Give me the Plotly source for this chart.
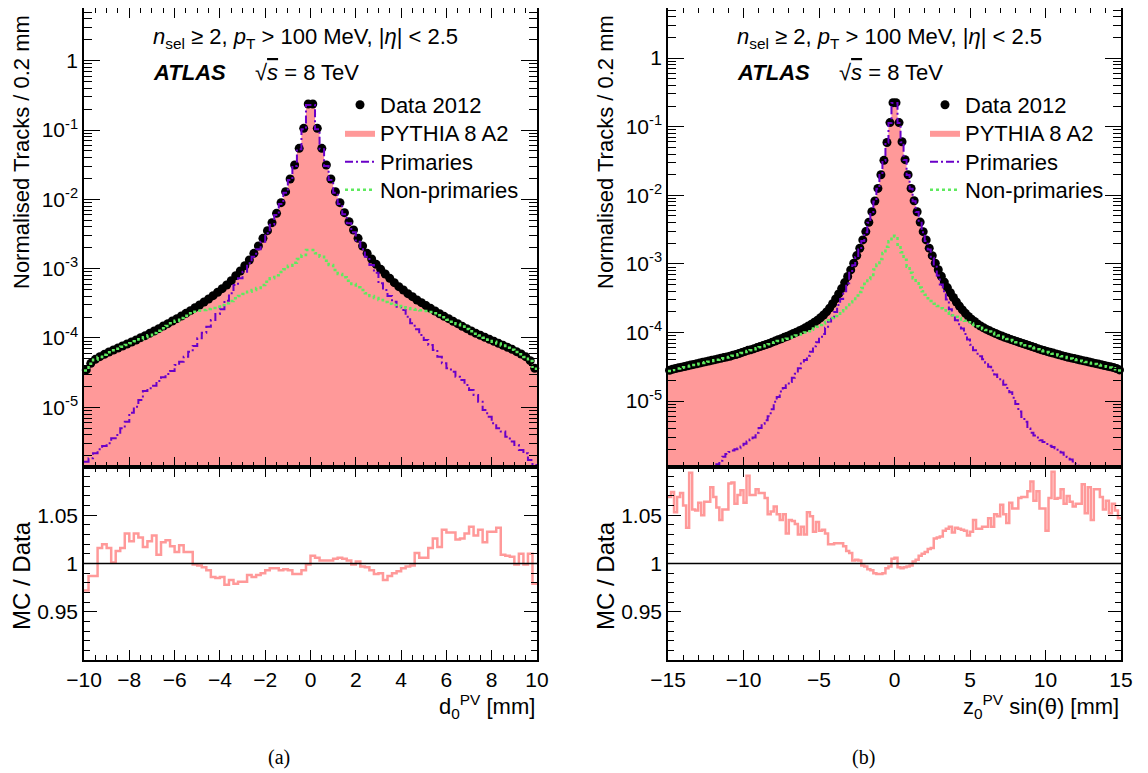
import numpy as np
import plotly.graph_objects as go

# ---------------- data ----------------
BIN_WIDTH = 0.2  # mm

# (a) d0^PV, 100 bins from -10 to 10 mm
d0_lo = -10.0
d0_hi = 10.0
d0_data = [
    3.46e-5, 4.31e-5, 4.92e-5, 5.38e-5, 5.81e-5, 6.28e-5, 6.71e-5, 7.17e-5, 7.66e-5, 8.19e-5,
    8.76e-5, 9.36e-5, 1.011e-4, 1.081e-4, 1.167e-4, 1.262e-4, 1.363e-4, 1.49e-4, 1.61e-4, 1.758e-4,
    1.90e-4, 2.076e-4, 2.268e-4, 2.478e-4, 2.739e-4, 2.992e-4, 3.306e-4, 3.652e-4, 4.08e-4, 4.56e-4,
    5.146e-4, 5.81e-4, 6.71e-4, 7.93e-4, 9.25e-4, 1.105e-3, 1.334e-3, 1.664e-3, 2.122e-3, 2.738e-3,
    3.53e-3, 4.61e-3, 6.28e-3, 8.95e-3, 1.29e-2, 1.965e-2, 3.13e-2, 5.44e-2, 0.1057, 0.237,
    0.237, 0.1057, 5.44e-2, 3.13e-2, 1.965e-2, 1.29e-2, 8.95e-3, 6.42e-3, 4.76e-3, 3.61e-3,
    2.738e-3, 2.122e-3, 1.664e-3, 1.378e-3, 1.155e-3, 9.78e-4, 8.38e-4, 7.25e-4, 6.28e-4, 5.50e-4,
    4.92e-4, 4.36e-4, 3.95e-4, 3.53e-4, 3.23e-4, 2.93e-4, 2.68e-4, 2.45e-4, 2.24e-4, 2.05e-4,
    1.90e-4, 1.739e-4, 1.61e-4, 1.474e-4, 1.363e-4, 1.262e-4, 1.167e-4, 1.093e-4, 1.022e-4, 9.57e-5,
    8.95e-5, 8.38e-5, 7.84e-5, 7.33e-5, 6.86e-5, 6.35e-5, 5.88e-5, 5.38e-5, 4.71e-5, 3.65e-5,
]
d0_ratio = [
    0.972, 0.987, 0.987, 1.016, 1.020, 1.016, 1.001, 1.013, 1.016, 1.031,
    1.023, 1.031, 1.027, 1.017, 1.023, 1.029, 1.009, 1.022, 1.024, 1.018,
    1.012, 1.019, 1.012, 1.012, 0.999, 0.998, 0.996, 0.993, 0.986, 0.985,
    0.986, 0.978, 0.983, 0.979, 0.981, 0.981, 0.988, 0.986, 0.988, 0.990,
    0.993, 0.995, 0.995, 0.993, 0.994, 0.993, 0.989, 0.989, 0.993, 0.999,
    1.008, 1.006, 1.003, 1.003, 1.003, 1.005, 1.006, 1.005, 1.003, 0.999,
    1.002, 0.997, 0.996, 0.993, 0.989, 0.990, 0.983, 0.987, 0.990, 0.992,
    0.995, 0.997, 0.998, 1.011, 1.006, 1.006, 1.016, 1.026, 1.017, 1.035,
    1.032, 1.032, 1.025, 1.026, 1.031, 1.038, 1.029, 1.035, 1.022, 1.033,
    1.033, 1.037, 1.009, 1.008, 1.007, 0.999, 1.010, 0.999, 1.010, 0.979,
]
d0_prim = [
    1.646e-6, 1.84e-6, 2.17e-6, 2.48e-6, 2.77e-6, 3.03e-6, 3.57e-6, 3.99e-6, 4.98e-6, 6.21e-6,
    8.38e-6, 1.022e-5, 1.276e-5, 1.72e-5, 1.88e-5, 2.05e-5, 2.40e-5, 2.71e-5, 3.03e-5, 3.34e-5,
    4.08e-5, 4.56e-5, 5.38e-5, 6.35e-5, 7.66e-5, 9.89e-5, 1.194e-4, 1.457e-4, 1.818e-4, 2.22e-4,
    2.59e-4, 3.455e-4, 4.41e-4, 5.81e-4, 7.25e-4, 9.05e-4, 1.194e-3, 1.49e-3, 1.90e-3, 2.45e-3,
    3.23e-3, 4.31e-3, 5.94e-3, 8.56e-3, 1.248e-2, 1.90e-2, 3.03e-2, 5.26e-2, 0.1022, 0.2294,
    0.2294, 0.1022, 5.26e-2, 3.03e-2, 1.90e-2, 1.248e-2, 8.56e-3, 6.08e-3, 4.51e-3, 3.34e-3,
    2.45e-3, 1.90e-3, 1.49e-3, 1.13e-3, 8.76e-4, 6.14e-4, 4.92e-4, 4.03e-4, 3.34e-4, 2.83e-4,
    2.53e-4, 2.03e-4, 1.627e-4, 1.334e-4, 1.105e-4, 9.36e-5, 7.93e-5, 6.71e-5, 5.38e-5, 4.31e-5,
    3.65e-5, 3.27e-5, 2.77e-5, 2.48e-5, 2.10e-5, 1.778e-5, 1.506e-5, 1.207e-5, 9.15e-6, 7.33e-6,
    5.88e-6, 4.98e-6, 4.46e-6, 3.77e-6, 3.20e-6, 2.86e-6, 2.42e-6, 2.17e-6, 1.739e-6, 1.474e-6,
]
d0_nonprim = [
    3.40e-5, 4.25e-5, 4.85e-5, 5.30e-5, 5.75e-5, 6.21e-5, 6.64e-5, 7.02e-5, 7.50e-5, 7.93e-5,
    8.38e-5, 8.95e-5, 9.57e-5, 1.022e-4, 1.093e-4, 1.18e-4, 1.276e-4, 1.378e-4, 1.49e-4, 1.627e-4,
    1.778e-4, 1.943e-4, 2.10e-4, 2.268e-4, 2.40e-4, 2.478e-4, 2.53e-4, 2.62e-4, 2.71e-4, 2.83e-4,
    2.99e-4, 3.16e-4, 3.42e-4, 3.73e-4, 4.03e-4, 4.31e-4, 4.66e-4, 4.92e-4, 5.26e-4, 5.81e-4,
    6.49e-4, 7.25e-4, 8.01e-4, 8.95e-4, 9.78e-4, 1.105e-3, 1.221e-3, 1.378e-3, 1.574e-3, 1.86e-3,
    1.858e-3, 1.664e-3, 1.49e-3, 1.304e-3, 1.13e-3, 9.57e-4, 8.38e-4, 7.50e-4, 6.71e-4, 6.01e-4,
    5.38e-4, 4.92e-4, 4.41e-4, 4.03e-4, 3.77e-4, 3.53e-4, 3.306e-4, 3.13e-4, 2.99e-4, 2.89e-4,
    2.77e-4, 2.68e-4, 2.62e-4, 2.56e-4, 2.51e-4, 2.45e-4, 2.37e-4, 2.268e-4, 2.12e-4, 1.987e-4,
    1.84e-4, 1.72e-4, 1.59e-4, 1.46e-4, 1.35e-4, 1.25e-4, 1.155e-4, 1.082e-4, 1.012e-4, 9.47e-5,
    8.86e-5, 8.30e-5, 7.76e-5, 7.26e-5, 6.79e-5, 6.29e-5, 5.82e-5, 5.33e-5, 4.66e-5, 3.60e-5,
]

# (b) z0^PV sin(theta), 150 bins from -15 to 15 mm (values read as log10 on the log axis)
z0_lo = -15.0
z0_hi = 15.0
z0_data_log10 = [
    -4.55, -4.535, -4.525, -4.515, -4.505, -4.495, -4.485, -4.475, -4.465, -4.455,
    -4.445, -4.435, -4.425, -4.415, -4.405, -4.395, -4.385, -4.375, -4.365, -4.355,
    -4.345, -4.33, -4.32, -4.305, -4.29, -4.275, -4.26, -4.25, -4.235, -4.22,
    -4.205, -4.19, -4.175, -4.16, -4.14, -4.125, -4.105, -4.09, -4.07, -4.055,
    -4.035, -4.015, -3.995, -3.975, -3.955, -3.93, -3.905, -3.88, -3.85, -3.82,
    -3.785, -3.745, -3.70, -3.645, -3.58, -3.51, -3.437, -3.36, -3.272, -3.184,
    -3.087, -2.99, -2.879, -2.772, -2.65, -2.529, -2.393, -2.238, -2.083, -1.90,
    -1.70, -1.49, -1.23, -0.94, -0.65,
    -0.65, -0.94, -1.22, -1.48, -1.70, -1.90, -2.08, -2.24, -2.39, -2.53,
    -2.65, -2.77, -2.88, -2.99, -3.085, -3.18, -3.265, -3.345, -3.42, -3.49,
    -3.555, -3.615, -3.67, -3.72, -3.765, -3.805, -3.84, -3.875, -3.905, -3.93,
    -3.955, -3.975, -3.995, -4.015, -4.035, -4.05, -4.07, -4.085, -4.10, -4.115,
    -4.13, -4.145, -4.16, -4.175, -4.19, -4.205, -4.22, -4.235, -4.25, -4.262,
    -4.275, -4.288, -4.30, -4.312, -4.325, -4.337, -4.348, -4.36, -4.37, -4.38,
    -4.39, -4.40, -4.41, -4.42, -4.43, -4.44, -4.45, -4.46, -4.47, -4.48,
    -4.49, -4.50, -4.51, -4.525, -4.545,
]
z0_prim_log10 = [
    -5.955, -5.955, -5.955, -5.955, -5.955, -5.955, -5.955, -5.955, -5.955, -5.955,
    -5.955, -5.955, -5.955, -5.955, -5.955, -5.955, -5.92, -5.87, -5.81, -5.77,
    -5.74, -5.72, -5.70, -5.685, -5.66, -5.62, -5.59, -5.56, -5.53, -5.46,
    -5.39, -5.33, -5.28, -5.22, -5.12, -5.01, -4.94, -4.86, -4.81, -4.77,
    -4.72, -4.66, -4.60, -4.52, -4.45, -4.40, -4.34, -4.28, -4.20, -4.14,
    -4.09, -4.02, -3.93, -3.84, -3.77, -3.70, -3.60, -3.51, -3.40, -3.28,
    -3.13, -3.02, -2.90, -2.79, -2.665, -2.54, -2.40, -2.245, -2.09, -1.905,
    -1.705, -1.495, -1.235, -0.945, -0.655,
    -0.655, -0.945, -1.225, -1.485, -1.705, -1.905, -2.085, -2.245, -2.40, -2.54,
    -2.665, -2.79, -2.91, -3.04, -3.17, -3.30, -3.40, -3.52, -3.66, -3.75,
    -3.82, -3.88, -3.94, -4.02, -4.10, -4.18, -4.26, -4.31, -4.345, -4.39,
    -4.44, -4.50, -4.555, -4.61, -4.65, -4.70, -4.76, -4.81, -4.87, -4.95,
    -5.04, -5.15, -5.23, -5.30, -5.40, -5.46, -5.50, -5.53, -5.57, -5.595,
    -5.625, -5.65, -5.67, -5.685, -5.71, -5.75, -5.78, -5.815, -5.85, -5.88,
    -5.92, -5.95, -5.955, -5.955, -5.955, -5.955, -5.955, -5.955, -5.955, -5.955,
    -5.955, -5.955, -5.955, -5.955, -5.955,
]
z0_nonprim_log10 = [
    -4.56, -4.545, -4.535, -4.525, -4.515, -4.505, -4.495, -4.485, -4.475, -4.465,
    -4.455, -4.445, -4.435, -4.425, -4.415, -4.405, -4.395, -4.385, -4.375, -4.365,
    -4.355, -4.34, -4.33, -4.315, -4.30, -4.285, -4.27, -4.26, -4.245, -4.23,
    -4.215, -4.20, -4.185, -4.17, -4.15, -4.14, -4.125, -4.115, -4.10, -4.09,
    -4.075, -4.06, -4.045, -4.03, -4.02, -4.00, -3.98, -3.96, -3.94, -3.915,
    -3.89, -3.87, -3.845, -3.82, -3.79, -3.76, -3.725, -3.69, -3.645, -3.60,
    -3.56, -3.51, -3.46, -3.41, -3.35, -3.29, -3.22, -3.16, -3.08, -3.01,
    -2.93, -2.84, -2.75, -2.67, -2.59,
    -2.60, -2.72, -2.83, -2.94, -3.04, -3.13, -3.21, -3.28, -3.345, -3.40,
    -3.45, -3.50, -3.54, -3.58, -3.615, -3.645, -3.675, -3.70, -3.725, -3.75,
    -3.77, -3.79, -3.81, -3.83, -3.85, -3.87, -3.89, -3.91, -3.93, -3.95,
    -3.965, -3.985, -4.005, -4.025, -4.045, -4.06, -4.08, -4.095, -4.11, -4.125,
    -4.14, -4.155, -4.17, -4.185, -4.20, -4.215, -4.23, -4.245, -4.26, -4.272,
    -4.285, -4.298, -4.31, -4.322, -4.335, -4.347, -4.358, -4.37, -4.38, -4.39,
    -4.40, -4.41, -4.42, -4.43, -4.44, -4.45, -4.46, -4.47, -4.48, -4.49,
    -4.50, -4.51, -4.52, -4.535, -4.555,
]
z0_ratio = [
    1.069, 1.074, 1.053, 1.069, 1.073, 1.060, 1.037, 1.094, 1.056, 1.055,
    1.063, 1.050, 1.064, 1.064, 1.079, 1.069, 1.058, 1.045, 1.056, 1.056,
    1.083, 1.084, 1.062, 1.071, 1.076, 1.063, 1.091, 1.071, 1.071, 1.077,
    1.073, 1.073, 1.068, 1.051, 1.054, 1.059, 1.051, 1.045, 1.051, 1.031,
    1.045, 1.044, 1.041, 1.030, 1.038, 1.030, 1.053, 1.049, 1.033, 1.043,
    1.034, 1.035, 1.031, 1.020, 1.020, 1.021, 1.021, 1.021, 1.018, 1.013,
    1.011, 1.003, 1.004, 1.003, 0.998, 0.997, 0.994, 0.993, 0.990, 0.989,
    0.989, 0.990, 0.995, 0.997, 1.005, 1.006, 0.996, 0.995, 0.996, 0.997,
    0.998, 1.002, 1.004, 1.008, 1.010, 1.012, 1.015, 1.016, 1.026, 1.027,
    1.028, 1.034, 1.036, 1.038, 1.032, 1.037, 1.036, 1.035, 1.034, 1.029,
    1.033, 1.045, 1.036, 1.036, 1.038, 1.038, 1.047, 1.038, 1.051, 1.049,
    1.061, 1.051, 1.042, 1.063, 1.057, 1.057, 1.068, 1.069, 1.069, 1.075,
    1.085, 1.065, 1.075, 1.057, 1.057, 1.034, 1.068, 1.095, 1.067, 1.068,
    1.077, 1.062, 1.070, 1.064, 1.059, 1.062, 1.062, 1.082, 1.052, 1.079,
    1.045, 1.077, 1.077, 1.069, 1.056, 1.065, 1.052, 1.062, 1.055, 1.047,
]

log_tickvals = [1e-5, 1e-4, 1e-3, 1e-2, 1e-1, 1.0]
log_ticktext = ["10<sup>-5</sup>", "10<sup>-4</sup>", "10<sup>-3</sup>",
                "10<sup>-2</sup>", "10<sup>-1</sup>", "1"]
ratio_tickvals = [0.95, 1.0, 1.05]
ratio_ticktext = ["0.95", "1", "1.05"]

# ---------------- styling ----------------
OFF = 8                      # default page-body margin around the figure div
W, H = 1148 - OFF, 773 - OFF  # figure fits the window without overflow
PINK = "#FF9999"
PURPLE = "#6A00C8"
GREEN = "#5EEA5E"
FONT = "Liberation Sans, Arial, sans-serif"
SERIF = "Liberation Serif, Times New Roman, serif"


def px(x):
    return min(1.0, max(0.0, (x - OFF) / W))


def py(y):
    return min(1.0, max(0.0, 1 - (y - OFF) / H))


def edges_of(lo, n):
    return lo + BIN_WIDTH * np.arange(n + 1)


def step(vals):
    v = np.asarray(vals, dtype=float)
    return np.append(v, v[-1])


fig = go.Figure()


def add_panel(xt, yt, xr, yr, lo, data, prim, nonprim, ratio, legs):
    data = np.asarray(data, dtype=float)
    ratio_a = np.asarray(ratio, dtype=float)
    n = len(data)
    edges = edges_of(lo, n)
    centers = edges[:-1] + BIN_WIDTH / 2
    mc = data * ratio_a
    fig.add_trace(go.Scatter(
        x=edges, y=step(mc), mode="lines", line=dict(width=0, shape="hv", color=PINK),
        fill="tozeroy", fillcolor=PINK, name="PYTHIA 8 A2", xaxis=xt, yaxis=yt,
        legend=legs[1], hoverinfo="skip"))
    fig.add_trace(go.Scatter(
        x=centers, y=data, mode="markers", marker=dict(color="black", size=9, symbol="circle"),
        name="Data 2012", xaxis=xt, yaxis=yt, legend=legs[0], cliponaxis=False))
    fig.add_trace(go.Scatter(
        x=edges, y=step(prim), mode="lines",
        line=dict(color=PURPLE, width=2, shape="hv", dash="8px,3px,2px,3px"),
        name="Primaries", xaxis=xt, yaxis=yt, legend=legs[2]))
    fig.add_trace(go.Scatter(
        x=edges, y=step(nonprim), mode="lines",
        line=dict(color=GREEN, width=2.5, shape="hv", dash="3px,3px"),
        name="Non-primaries", xaxis=xt, yaxis=yt, legend=legs[3]))
    fig.add_trace(go.Scatter(
        x=edges, y=step(ratio_a), mode="lines",
        line=dict(color=PINK, width=2.5, shape="hv"),
        showlegend=False, xaxis=xr, yaxis=yr))


LEGS_L = ["legend", "legend2", "legend3", "legend4"]
LEGS_R = ["legend5", "legend6", "legend7", "legend8"]
add_panel("x", "y", "x2", "y2", d0_lo, d0_data, d0_prim, d0_nonprim, d0_ratio, LEGS_L)
add_panel("x3", "y3", "x4", "y4", z0_lo,
          10 ** np.array(z0_data_log10), 10 ** np.array(z0_prim_log10),
          10 ** np.array(z0_nonprim_log10), z0_ratio, LEGS_R)

# ---------------- axes ----------------
dom_L = [px(84), px(537)]
dom_R = [px(668), px(1121)]
dom_T = [py(467), py(8)]
dom_B = [py(660), py(467)]

common = dict(showline=True, linecolor="black", linewidth=1.5, mirror="allticks",
              ticks="inside", tickcolor="black", showgrid=False, zeroline=False,
              automargin=False,
              tickfont=dict(family=FONT, size=21, color="black"))
minor_log = [m * 10.0 ** e for e in range(-7, 1) for m in range(2, 10)]


def xax(dom, anchor, lo, hi, dt, mdt, labels):
    return dict(domain=dom, anchor=anchor, range=[lo, hi], tickmode="linear", tick0=0,
                dtick=dt, ticklen=10, tickwidth=1, showticklabels=labels,
                minor=dict(tickmode="linear", tick0=0, dtick=mdt, ticks="inside",
                           ticklen=5, tickcolor="black", showgrid=False), **common)


def ylog(dom, anchor, rng):
    return dict(domain=dom, anchor=anchor, type="log", range=rng, tickmode="array",
                tickvals=log_tickvals, ticktext=log_ticktext, ticklen=16, tickwidth=1,
                minor=dict(tickmode="array", tickvals=minor_log, ticks="inside",
                           ticklen=8, tickcolor="black", showgrid=False), **common)


def yrat(dom, anchor):
    return dict(domain=dom, anchor=anchor, range=[0.9, 1.1], tickmode="array",
                tickvals=ratio_tickvals, ticktext=ratio_ticktext, ticklen=13, tickwidth=1,
                minor=dict(tickmode="linear", tick0=0.9, dtick=0.01, ticks="inside",
                           ticklen=6, tickcolor="black", showgrid=False), **common)


fig.update_layout(
    xaxis=xax(dom_L, "y", d0_lo, d0_hi, 2, 0.5, False),
    xaxis2=xax(dom_L, "y2", d0_lo, d0_hi, 2, 0.5, True),
    xaxis3=xax(dom_R, "y3", z0_lo, z0_hi, 5, 1, False),
    xaxis4=xax(dom_R, "y4", z0_lo, z0_hi, 5, 1, True),
    yaxis=ylog(dom_T, "x", [-5.861, 0.760]),
    yaxis2=yrat(dom_B, "x2"),
    yaxis3=ylog(dom_T, "x3", [-5.96, 0.730]),
    yaxis4=yrat(dom_B, "x4"),
)

# one legend box per entry so the rows can sit at the reference spacing
leg_style = dict(xanchor="left", yanchor="middle", bgcolor="rgba(0,0,0,0)",
                 font=dict(family=FONT, size=22, color="black"), itemwidth=30,
                 tracegroupgap=0)
row_y = [105, 133, 162, 190]
legends = {}
for names, x0 in ((LEGS_L, 340), (LEGS_R, 925)):
    for name, yrow in zip(names, row_y):
        legends[name] = dict(x=px(x0), y=py(yrow), **leg_style)

fig.update_layout(
    width=W, height=H, margin=dict(l=0, r=0, t=0, b=0, autoexpand=False),
    paper_bgcolor="white", plot_bgcolor="white",
    font=dict(family=FONT, size=21, color="black"),
    **legends,
)

# reference line at ratio = 1
for xr, yr in (("x2", "y2"), ("x4", "y4")):
    fig.add_shape(type="line", xref=f"{xr} domain", x0=0, x1=1, yref=yr, y0=1, y1=1,
                  line=dict(color="black", width=1.5))


# ---------------- texts ----------------
def ann(text, x, y, size=22, xanchor="left", angle=0, family=FONT):
    fig.add_annotation(text=text, x=px(x), y=py(y), xref="paper", yref="paper",
                       xanchor=xanchor, yanchor="middle", showarrow=False, textangle=angle,
                       font=dict(family=family, size=size, color="black"))


for off in (0, 584):
    ann("<i>n</i><sub>sel</sub> ≥ 2, <i>p</i><sub>T</sub> &gt; 100 MeV, |<i>η</i>| &lt; 2.5",
        151 + off, 38)
    ann("<b><i>ATLAS</i></b>", 151 + off, 72)
    ann("√<span style='text-decoration:overline'><i>s</i></span> = 8 TeV", 253 + off, 72)
    ann("Normalised Tracks / 0.2 mm", 21 + off, 152, size=22, xanchor="center", angle=-90)
    ann("MC / Data", 21 + off, 576, size=24, xanchor="center", angle=-90)

ann("d<sub>0</sub><sup>PV</sup> [mm]", 537, 706, xanchor="right")
ann("z<sub>0</sub><sup>PV</sup> sin(θ) [mm]", 1121, 706, xanchor="right")
ann("(a)", 279, 757, size=20, xanchor="center", family=SERIF)
ann("(b)", 863, 757, size=20, xanchor="center", family=SERIF)

fig.write_html("out.html")
